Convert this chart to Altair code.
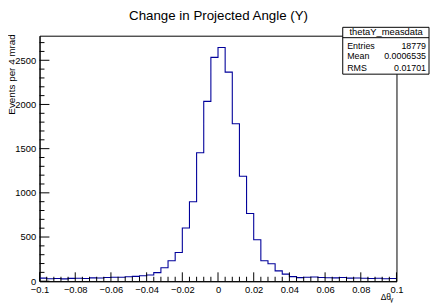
import altair as alt
import pandas as pd

# ---- data ----
x_min, x_max, bin_w = -0.1, 0.1, 0.004
counts = [35, 28, 30, 26, 32, 34, 30, 38, 36, 42, 45, 44, 50, 55,
          61, 70, 97, 153, 231, 324,
          603, 900, 1454, 2035, 2533, 2645, 2366, 1782, 1187, 766, 469, 231, 197,
          117, 80, 52, 41,
          45, 48, 42, 40, 38, 42, 35, 36, 33, 30, 34, 28, 30]
x_major = [-0.1, -0.08, -0.06, -0.04, -0.02, 0.0, 0.02, 0.04, 0.06, 0.08, 0.1]
y_major = [0, 500, 1000, 1500, 2000, 2500]
y_top = 2778
title_text = "Change in Projected Angle (Y)"
y_title = "Events per 4 mrad"
stats_name = "thetaY_measdata"
stats_labels = ["Entries", "Mean", "RMS"]
stats_values = ["18779", "0.0006535", "0.01701"]

edges = [round(x_min + bin_w * k, 4) for k in range(len(counts) + 1)]
hist = pd.DataFrame({"x": edges, "y": counts + [counts[-1]]})

x_minor = [round(x_min + bin_w * k, 4) for k in range(51)]
x_minor = [v for v in x_minor if all(abs(v - m) > 1e-9 for m in x_major)]
y_minor = [v for v in range(0, 2800, 100) if v % 500 != 0]

W, H = 362, 249
FONT = "Liberation Sans"
BLUE = "#00009a"

xs = alt.Scale(domain=[x_min, x_max], nice=False, zero=False)
ys = alt.Scale(domain=[0, y_top], nice=False, zero=True)

x_axis = alt.Axis(values=x_major, ticks=False, grid=False, title=None,
                  labelExpr="replace(format(datum.value, '~g'), '-', '\u2212')",
                  labelFontSize=9.5, labelFont=FONT, labelColor="black",
                  labelPadding=3, labelOverlap=False, labelFlush=False,
                  domainColor="black")
y_axis = alt.Axis(values=y_major, ticks=False, grid=False,
                  labelExpr="format(datum.value, 'd')",
                  title=y_title, titleFont=FONT, titleFontSize=10,
                  titleFontWeight="normal", titleColor="black",
                  titleAngle=-90, titleAlign="right", titleBaseline="middle",
                  titleX=-28, titleY=-2,
                  labelFontSize=9.5, labelFont=FONT, labelColor="black",
                  labelPadding=4, labelOverlap=False, domainColor="black")

line = alt.Chart(hist).mark_line(interpolate="step-after", color=BLUE, strokeWidth=1.1).encode(
    x=alt.X("x:Q", scale=xs, axis=x_axis),
    y=alt.Y("y:Q", scale=ys, axis=y_axis),
)

ymaj = alt.Chart(pd.DataFrame({"y": y_major})).mark_rule(color="black", strokeWidth=1).encode(
    y=alt.Y("y:Q", scale=ys, axis=y_axis), x=alt.value(0), x2=alt.value(10))
ymin = alt.Chart(pd.DataFrame({"y": y_minor})).mark_rule(color="black", strokeWidth=1).encode(
    y=alt.Y("y:Q", scale=ys, axis=y_axis), x=alt.value(0), x2=alt.value(5))
xmaj = alt.Chart(pd.DataFrame({"x": x_major})).mark_rule(color="black", strokeWidth=1).encode(
    x=alt.X("x:Q", scale=xs, axis=x_axis), y=alt.value(H), y2=alt.value(H - 9))
xmin = alt.Chart(pd.DataFrame({"x": x_minor})).mark_rule(color="black", strokeWidth=1).encode(
    x=alt.X("x:Q", scale=xs, axis=x_axis), y=alt.value(H), y2=alt.value(H - 4.5))

one = pd.DataFrame({"a": [0]})
box = alt.Chart(one).mark_rect(fill="white", stroke="black", strokeWidth=1).encode(
    x=alt.value(307.5), x2=alt.value(395), y=alt.value(-8.5), y2=alt.value(39))
box_line = alt.Chart(one).mark_rule(color="black", strokeWidth=1).encode(
    x=alt.value(307.5), x2=alt.value(395), y=alt.value(2))
header = alt.Chart(one).mark_text(font=FONT, fontSize=9.5, align="center", baseline="middle",
                                  color="black").encode(
    x=alt.value(351.5), y=alt.value(-3.5), text=alt.value(stats_name))

stat_layers = []
row_y = [10, 21, 32.5]
for lab, val, ry in zip(stats_labels, stats_values, row_y):
    stat_layers.append(alt.Chart(one).mark_text(font=FONT, fontSize=9, align="left", baseline="middle",
                                                color="black").encode(
        x=alt.value(312), y=alt.value(ry), text=alt.value(lab)))
    stat_layers.append(alt.Chart(one).mark_text(font=FONT, fontSize=9, align="right", baseline="middle",
                                                color="black").encode(
        x=alt.value(392), y=alt.value(ry), text=alt.value(val)))

title = alt.Chart(one).mark_text(font=FONT, fontSize=13.5, align="center", baseline="middle",
                                 color="black").encode(
    x=alt.value(181.5), y=alt.value(-20), text=alt.value(title_text))
xlab1 = alt.Chart(one).mark_text(font=FONT, fontSize=8.5, align="left", baseline="middle",
                                 color="black").encode(
    x=alt.value(346), y=alt.value(265.5), text=alt.value("Δθ"))
xlab2 = alt.Chart(one).mark_text(font=FONT, fontSize=6.5, align="left", baseline="middle",
                                 color="black").encode(
    x=alt.value(355.5), y=alt.value(268.5), text=alt.value("y"))

chart = alt.layer(line, ymaj, ymin, xmaj, xmin, box, box_line, header, *stat_layers,
                  title, xlab1, xlab2).properties(
    width=W, height=H,
    autosize=alt.AutoSizeParams(type="none"),
    padding={"left": 32, "top": 26, "right": 34, "bottom": 20},
    background="white",
).configure_view(stroke="black", strokeWidth=1).configure_axis(labelOverlap=False)

chart.save("out.html", embed_options={"renderer": "svg", "actions": False})
